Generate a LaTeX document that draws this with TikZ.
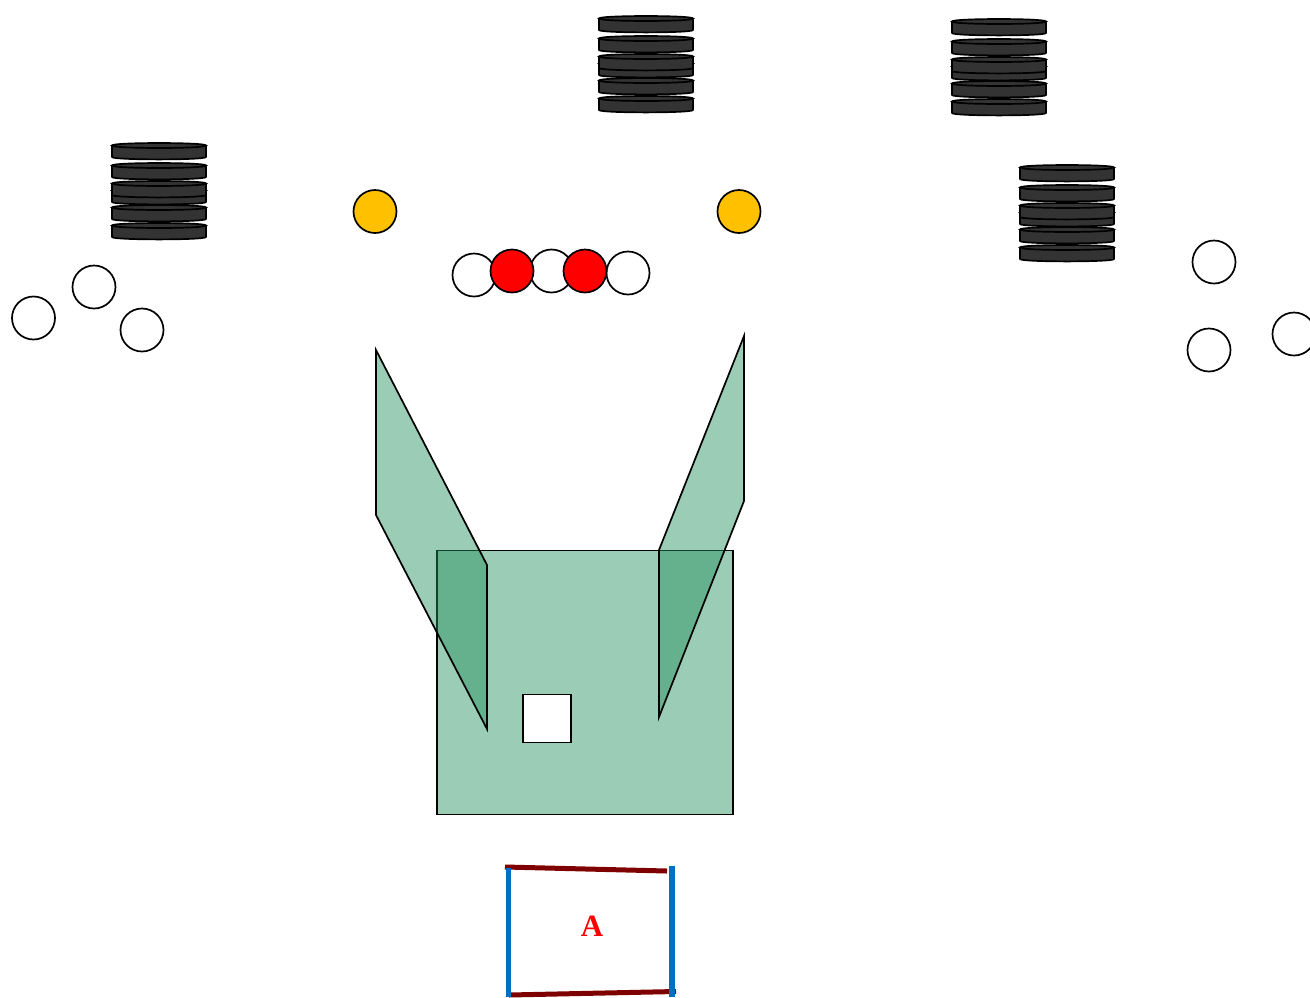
\documentclass[tikz,border=0pt]{standalone}
\usepackage{fontspec}
\setmainfont{Liberation Serif}
\definecolor{greenbase}{RGB}{38,144,94}
\definecolor{diskgray}{RGB}{51,51,51}
\definecolor{gold}{RGB}{255,192,0}
\definecolor{barblue}{RGB}{0,112,192}
\definecolor{barred}{RGB}{127,0,0}
\tikzset{
  ball/.style={circle,draw=black,fill=white,minimum size=43pt,inner sep=0pt,outer sep=0pt},
  redball/.style={ball,fill=red},
  goldball/.style={ball,fill=gold},
  panel/.style={draw=black,fill=greenbase,fill opacity=.46,draw opacity=1},
  barb/.style={draw=barblue,line width=5.5pt},
  barr/.style={draw=barred,line width=5pt},
  pics/disk/.style={code={
    \draw[fill=diskgray,draw=black,line join=round] (0,2.5) -- (0,14) .. controls (0,17.2) and (94,17.2) .. (94,14) -- (94,2.5) -- cycle;
    \draw[fill=diskgray,draw=black] (0,2.5) .. controls (0,-0.8) and (94,-0.8) .. (94,2.5) .. controls (94,5.8) and (0,5.8) .. (0,2.5) -- cycle;
  }},
  pics/stack/.style={code={
    \pic at (0,80) {disk};
    \pic at (0,62) {disk};
    \pic at (0,45) {disk};
    \pic at (0,38) {disk};
    \pic at (0,20) {disk};
    \pic at (0,0) {disk};
  }}
}
\begin{document}
\begin{tikzpicture}[x=1pt,y=-1pt,line width=1.7pt]
\useasboundingbox (0,0) rectangle (1310,997);
\pic at (599,16) {stack};
\pic at (952,19) {stack};
\pic at (112,143) {stack};
\pic at (1020,165) {stack};
\node[goldball] (g1) at (375,211.5) {};
\node[goldball] (g2) at (739,211.5) {};
\node[ball] (w1) at (474,275) {};
\node[ball] (w2) at (551.5,271) {};
\node[ball] (w3) at (628,273) {};
\node[redball] (r1) at (512,271) {};
\node[redball] (r2) at (585,271) {};
\node[ball] (l1) at (33.5,318) {};
\node[ball] (l2) at (94,287) {};
\node[ball] (l3) at (142,330) {};
\node[ball] (e1) at (1214,262) {};
\node[ball] (e2) at (1209,350) {};
\node[ball] (e3) at (1294,334) {};
\path[panel] (437,550.5) rectangle (733,814.5);
\path[panel] (376,350) -- (487,565) -- (487,729) -- (376,515) -- cycle;
\path[panel] (744,336) -- (744,501) -- (659,717) -- (659,550) -- cycle;
\node[draw=black,fill=white,minimum size=48pt,inner sep=0pt,outer sep=0pt] (sq) at (547,718.5) {};
\draw[barr] (505,867) -- (667,871);
\draw[barr] (509,995) -- (676,991.5);
\draw[barb] (508.5,868) -- (508.5,997);
\draw[barb] (672,866) -- (672,997);
\node[text=red,inner sep=0pt] (lab) at (592,926) {\fontsize{31}{31}\selectfont\bfseries A};
\end{tikzpicture}
\end{document}
